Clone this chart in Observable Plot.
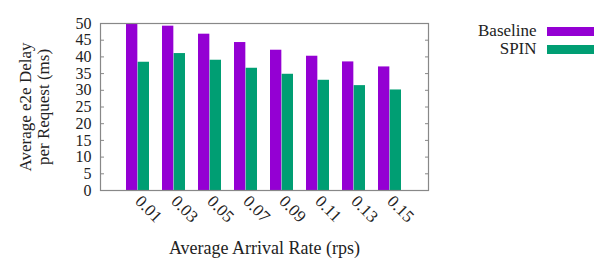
<!DOCTYPE html>
<html>
<head>
<meta charset="utf-8">
<script src="https://cdn.jsdelivr.net/npm/d3@7"></script>
<script src="https://cdn.jsdelivr.net/npm/@observablehq/plot@0.6"></script>
<style>
  html, body { margin: 0; padding: 0; background: #fff; }
  #wrap { position: relative; width: 616px; height: 264px; font-family: "Liberation Serif", "Times New Roman", serif; }
  #legend { position: absolute; left: 478px; top: 22px; font-size: 17px; line-height: 18px; color: #222; }
  .row { display: flex; align-items: center; justify-content: flex-end; height: 18px; }
  .row span.t { text-align: right; line-height: 18px; }
  .row span.sw { display: inline-block; width: 47px; height: 9px; margin-left: 10px; }
</style>
</head>
<body>
<div id="wrap"><div id="legend"></div></div>
<script>
const categories = ["0.01", "0.03", "0.05", "0.07", "0.09", "0.11", "0.13", "0.15"];
const baseline = [50, 49.2, 46.8, 44.3, 42, 40.2, 38.5, 37];
const spin = [38.4, 41, 39, 36.6, 34.8, 33, 31.4, 30.1];
const seriesNames = ["Baseline", "SPIN"];
const colors = ["#9400d3", "#009e73"];
const yTicks = [0, 5, 10, 15, 20, 25, 30, 35, 40, 45, 50];
const yLabel = "Average e2e Delay\nper Request (ms)";
const xLabel = "Average Arrival Rate (rps)";

const W = 616, H = 264, ml = 100, mr = 188, mt = 23, mb = 74;
const pIn = 0.36, pOut = 0.68;
const step = (W - ml - mr) / (categories.length - pIn + 2 * pOut);
const half = step * (1 - pIn) / 2;

const rows = [];
categories.forEach((c, i) => {
  rows.push({cat: c, series: "Baseline", value: baseline[i]});
  rows.push({cat: c, series: "SPIN", value: spin[i]});
});

const chart = Plot.plot({
  width: W, height: H,
  marginLeft: ml, marginRight: mr, marginTop: mt, marginBottom: mb,
  style: {fontFamily: "Liberation Serif, serif", fontSize: "16px", color: "#222", background: "transparent"},
  x: {domain: categories, paddingInner: pIn, paddingOuter: pOut},
  y: {domain: [0, 50]},
  color: {domain: seriesNames, range: colors},
  marks: [
    Plot.barY(rows.filter(d => d.series === "Baseline"), {x: "cat", y: "value", fill: "series", insetRight: half, insetLeft: 0}),
    Plot.barY(rows.filter(d => d.series === "SPIN"), {x: "cat", y: "value", fill: "series", insetLeft: half, insetRight: 0}),
    Plot.axisY(yTicks, {anchor: "left", tickSize: -4, tickPadding: 13, stroke: "#888", label: null, fontSize: 16}),
    Plot.axisY(yTicks, {anchor: "right", tickSize: -4, text: null, stroke: "#888", label: null}),
    Plot.axisX({tickSize: 0, tickRotate: 45, tickPadding: 8, label: null, fontSize: 17}),
    Plot.text([yLabel], {frameAnchor: "left", rotate: -90, dx: -66, textAnchor: "middle", lineAnchor: "middle", lineHeight: 1.06, fontSize: 17, fill: "#222"}),
    Plot.text([xLabel], {frameAnchor: "bottom", dy: 58, textAnchor: "middle", lineAnchor: "middle", fontSize: 18, fill: "#222"}),
    Plot.frame({stroke: "#888", strokeWidth: 1.2})
  ]
});
document.getElementById("wrap").prepend(chart);

const legend = document.getElementById("legend");
seriesNames.forEach((s, i) => {
  const r = document.createElement("div");
  r.className = "row";
  r.innerHTML = `<span class="t">${s}</span><span class="sw" style="background:${colors[i]}"></span>`;
  legend.appendChild(r);
});
</script>
</body>
</html>
